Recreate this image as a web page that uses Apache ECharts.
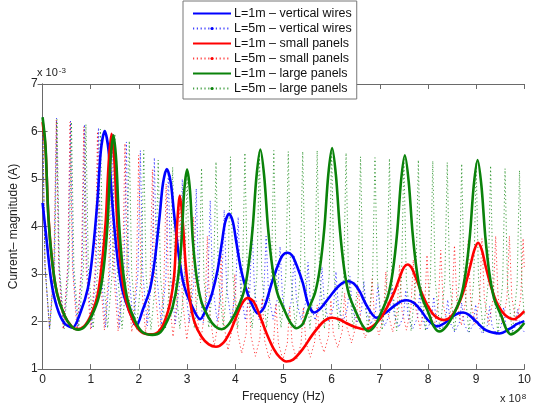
<!DOCTYPE html>
<html><head><meta charset="utf-8">
<script src="https://cdn.jsdelivr.net/npm/echarts@6/dist/echarts.min.js"></script>
<style>html,body{margin:0;padding:0;background:#fff}#c{width:534px;height:408px}</style>
</head><body><div id="c"></div>
<script>
// Units: frequency in 1e8 Hz, current in 1e-3 A
const xTickLabels = ['0','1','2','3','4','5','6','7','8','9','10'];
const yTickLabels = ['1','2','3','4','5','6','7'];
const seriesNames = ['L=1m – vertical wires','L=5m – vertical wires','L=1m – small panels','L=5m – small panels','L=1m – large panels','L=5m – large panels'];

const wires1m = [[0,4.5],[0.08,3.75],[0.18,2.85],[0.3,2.3],[0.45,1.97],[0.62,1.87],[0.79,2.2],[0.94,2.7],[1.04,3.44],[1.14,4.56],[1.21,5.6],[1.29,6.01],[1.37,5.6],[1.44,4.58],[1.54,3.47],[1.64,2.74],[1.79,2.25],[1.95,1.92],[2.08,2.25],[2.23,2.68],[2.33,3.3],[2.43,4.22],[2.5,4.91],[2.58,5.21],[2.66,4.93],[2.73,4.26],[2.83,3.38],[2.93,2.78],[3.08,2.37],[3.27,2.05],[3.42,2.32],[3.52,2.6],[3.63,3.07],[3.72,3.65],[3.79,4.09],[3.87,4.27],[3.95,4.1],[4.02,3.68],[4.11,3.14],[4.22,2.7],[4.32,2.42],[4.47,2.17],[4.6,2.3],[4.76,2.82],[4.88,3.17],[4.98,3.39],[5.08,3.45],[5.18,3.39],[5.28,3.17],[5.4,2.82],[5.52,2.35],[5.64,2.19],[5.78,2.29],[5.96,2.52],[6.1,2.7],[6.22,2.81],[6.34,2.85],[6.46,2.8],[6.58,2.64],[6.72,2.35],[6.93,2.08],[7.1,2.17],[7.3,2.33],[7.45,2.43],[7.56,2.45],[7.7,2.4],[7.85,2.24],[8.0,2.03],[8.19,1.9],[8.35,1.97],[8.5,2.1],[8.62,2.17],[8.73,2.19],[8.85,2.14],[9.0,2.0],[9.2,1.82],[9.48,1.75],[9.7,1.85],[9.85,1.95],[10,2.01]];

const wires5m = [[0,6.3],[0.05,3.19],[0.145,1.85],[0.24,3.18],[0.29,6.28],[0.34,3.18],[0.435,1.85],[0.53,3.16],[0.58,6.22],[0.63,3.17],[0.725,1.86],[0.82,3.15],[0.87,6.15],[0.92,3.15],[1.015,1.87],[1.11,3.13],[1.16,6.08],[1.21,3.14],[1.305,1.88],[1.4,3.1],[1.45,5.95],[1.5,3.1],[1.595,1.88],[1.69,3.05],[1.74,5.78],[1.79,3.06],[1.885,1.9],[1.98,3.01],[2.03,5.6],[2.08,3.02],[2.175,1.91],[2.27,2.97],[2.32,5.45],[2.37,2.99],[2.465,1.93],[2.56,2.91],[2.61,5.2],[2.66,2.93],[2.755,1.95],[2.85,2.87],[2.9,5.0],[2.95,2.88],[3.045,1.97],[3.14,2.82],[3.19,4.8],[3.24,2.83],[3.335,1.98],[3.43,2.75],[3.48,4.55],[3.53,2.77],[3.625,2.0],[3.72,2.71],[3.77,4.35],[3.82,2.72],[3.915,2.02],[4.01,2.67],[4.06,4.2],[4.11,2.68],[4.205,2.03],[4.3,2.62],[4.35,4.0],[4.4,2.63],[4.495,2.04],[4.59,2.57],[4.64,3.8],[4.69,2.58],[4.785,2.05],[4.88,2.51],[4.93,3.58],[4.98,2.51],[5.075,2.05],[5.17,2.46],[5.22,3.4],[5.27,2.45],[5.365,2.04],[5.46,2.4],[5.51,3.25],[5.56,2.4],[5.655,2.03],[5.75,2.37],[5.8,3.15],[5.85,2.35],[5.945,2.01],[6.04,2.32],[6.09,3.05],[6.14,2.31],[6.235,1.99],[6.33,2.28],[6.38,2.95],[6.43,2.26],[6.525,1.97],[6.62,2.23],[6.67,2.85],[6.72,2.21],[6.815,1.94],[6.91,2.19],[6.96,2.78],[7.01,2.17],[7.105,1.91],[7.2,2.15],[7.25,2.72],[7.3,2.13],[7.395,1.88],[7.49,2.11],[7.54,2.66],[7.59,2.09],[7.685,1.85],[7.78,2.08],[7.83,2.6],[7.88,2.05],[7.975,1.82],[8.07,2.03],[8.12,2.52],[8.17,2.02],[8.265,1.8],[8.36,2.0],[8.41,2.46],[8.46,1.98],[8.555,1.78],[8.65,1.97],[8.7,2.4],[8.75,1.95],[8.845,1.76],[8.94,1.94],[8.99,2.36],[9.04,1.93],[9.135,1.74],[9.23,1.91],[9.28,2.32],[9.33,1.91],[9.425,1.73],[9.52,1.9],[9.57,2.3],[9.62,1.9],[9.715,1.73],[9.81,1.89],[9.86,2.26],[9.91,1.9],[10,1.78]];

const small1m = [[0,6.2],[0.06,5.65],[0.12,4.25],[0.2,3.25],[0.3,2.6],[0.45,2.14],[0.6,1.9],[0.72,1.84],[0.86,1.9],[1.0,2.13],[1.14,2.55],[1.23,3.2],[1.31,4.1],[1.37,5.3],[1.43,5.95],[1.49,5.4],[1.55,4.1],[1.63,3.1],[1.73,2.45],[1.88,2.02],[2.05,1.78],[2.25,1.73],[2.42,1.8],[2.55,2.05],[2.65,2.4],[2.73,2.95],[2.79,4.0],[2.85,4.65],[2.91,4.1],[2.97,3.2],[3.05,2.5],[3.15,2.0],[3.3,1.68],[3.45,1.52],[3.6,1.47],[3.75,1.55],[3.9,1.8],[4.02,2.1],[4.14,2.38],[4.26,2.5],[4.38,2.42],[4.5,2.15],[4.65,1.75],[4.8,1.42],[4.93,1.24],[5.06,1.16],[5.2,1.2],[5.4,1.42],[5.6,1.72],[5.8,1.97],[5.92,2.06],[6.01,2.08],[6.15,2.05],[6.3,1.97],[6.5,1.88],[6.7,1.84],[6.85,1.9],[7.0,2.05],[7.15,2.3],[7.3,2.62],[7.42,2.95],[7.5,3.14],[7.58,3.2],[7.66,3.13],[7.75,2.92],[7.87,2.6],[8.0,2.32],[8.15,2.11],[8.33,2.03],[8.5,2.13],[8.65,2.4],[8.78,2.78],[8.88,3.18],[8.96,3.5],[9.04,3.66],[9.12,3.5],[9.2,3.15],[9.32,2.7],[9.45,2.35],[9.6,2.14],[9.79,2.05],[9.9,2.12],[10,2.22]];

const small5m = [[0,6.25],[0.05,3.16],[0.143,1.84],[0.235,3.16],[0.285,6.25],[0.335,3.16],[0.428,1.84],[0.52,3.15],[0.57,6.2],[0.62,3.15],[0.713,1.84],[0.805,3.12],[0.855,6.1],[0.905,3.11],[0.998,1.83],[1.09,3.08],[1.14,6.0],[1.19,3.07],[1.283,1.82],[1.375,3.04],[1.425,5.9],[1.475,3.03],[1.568,1.8],[1.66,2.99],[1.71,5.75],[1.76,2.97],[1.853,1.78],[1.945,2.9],[1.995,5.5],[2.045,2.88],[2.138,1.76],[2.23,2.79],[2.28,5.2],[2.33,2.76],[2.423,1.72],[2.515,2.67],[2.565,4.9],[2.615,2.65],[2.708,1.68],[2.8,2.56],[2.85,4.6],[2.9,2.51],[2.993,1.62],[3.085,2.39],[3.135,4.2],[3.185,2.35],[3.278,1.55],[3.37,2.23],[3.42,3.8],[3.47,2.18],[3.563,1.48],[3.655,2.06],[3.705,3.4],[3.755,2.0],[3.848,1.4],[3.94,1.88],[3.99,3.0],[4.04,1.83],[4.133,1.33],[4.225,1.74],[4.275,2.7],[4.325,1.7],[4.418,1.27],[4.51,1.64],[4.56,2.5],[4.61,1.6],[4.703,1.22],[4.795,1.57],[4.845,2.38],[4.895,1.55],[4.988,1.2],[5.08,1.54],[5.13,2.32],[5.18,1.54],[5.273,1.2],[5.365,1.53],[5.415,2.3],[5.465,1.57],[5.558,1.25],[5.65,1.58],[5.7,2.35],[5.75,1.65],[5.843,1.35],[5.935,1.68],[5.985,2.45],[6.035,1.75],[6.128,1.45],[6.22,1.8],[6.27,2.6],[6.32,1.87],[6.413,1.55],[6.505,1.91],[6.555,2.75],[6.605,1.98],[6.698,1.65],[6.79,2.03],[6.84,2.9],[6.89,2.07],[6.983,1.72],[7.075,2.12],[7.125,3.05],[7.175,2.16],[7.268,1.78],[7.36,2.21],[7.41,3.2],[7.46,2.23],[7.553,1.82],[7.645,2.26],[7.695,3.3],[7.745,2.29],[7.838,1.85],[7.93,2.32],[7.98,3.4],[8.03,2.34],[8.123,1.88],[8.215,2.37],[8.265,3.5],[8.315,2.38],[8.408,1.9],[8.5,2.41],[8.55,3.6],[8.6,2.42],[8.693,1.92],[8.785,2.45],[8.835,3.7],[8.885,2.46],[8.978,1.93],[9.07,2.48],[9.12,3.75],[9.17,2.48],[9.263,1.94],[9.355,2.5],[9.405,3.8],[9.455,2.51],[9.548,1.95],[9.64,2.51],[9.69,3.8],[9.74,2.51],[9.833,1.95],[9.925,2.49],[9.975,3.75],[10,3.1]];

const large1m = [[0,6.3],[0.06,5.72],[0.12,4.2],[0.2,3.26],[0.3,2.59],[0.45,2.14],[0.6,1.9],[0.74,1.83],[0.88,1.9],[1.02,2.12],[1.17,2.53],[1.27,3.14],[1.35,4.08],[1.41,5.39],[1.47,5.92],[1.53,5.37],[1.59,4.03],[1.67,3.06],[1.77,2.43],[1.92,2.01],[2.07,1.78],[2.28,1.72],[2.45,1.78],[2.58,2.0],[2.7,2.31],[2.8,2.83],[2.88,3.63],[2.94,4.75],[3.0,5.2],[3.06,4.76],[3.12,3.69],[3.2,2.92],[3.3,2.41],[3.45,2.08],[3.58,1.9],[3.72,1.84],[3.87,1.95],[4.02,2.22],[4.17,2.6],[4.27,3.13],[4.36,3.96],[4.44,5.05],[4.52,5.62],[4.6,5.06],[4.68,3.97],[4.77,3.14],[4.87,2.61],[5.02,2.24],[5.15,1.97],[5.27,1.86],[5.4,1.95],[5.51,2.24],[5.66,2.62],[5.76,3.15],[5.85,3.98],[5.93,5.08],[6.01,5.65],[6.09,5.07],[6.17,3.96],[6.26,3.11],[6.36,2.57],[6.51,2.19],[6.64,1.92],[6.76,1.8],[6.89,1.9],[7.02,2.17],[7.17,2.54],[7.27,3.06],[7.36,3.87],[7.44,4.95],[7.52,5.5],[7.6,4.94],[7.68,3.87],[7.77,3.05],[7.87,2.53],[8.02,2.16],[8.12,1.9],[8.24,1.79],[8.38,1.9],[8.53,2.15],[8.68,2.51],[8.78,3.02],[8.87,3.81],[8.95,4.86],[9.03,5.4],[9.11,4.85],[9.19,3.79],[9.28,2.98],[9.38,2.46],[9.53,2.1],[9.62,1.85],[9.72,1.73],[9.85,1.8],[10,1.97]];

const large5m = [[0,6.25],[0.05,3.17],[0.15,1.85],[0.25,3.17],[0.3,6.25],[0.35,3.17],[0.45,1.85],[0.55,3.16],[0.6,6.2],[0.65,3.16],[0.75,1.85],[0.85,3.14],[0.9,6.15],[0.95,3.15],[1.05,1.86],[1.15,3.12],[1.2,6.05],[1.25,3.12],[1.35,1.86],[1.45,3.09],[1.5,5.95],[1.55,3.08],[1.65,1.85],[1.75,3.04],[1.8,5.8],[1.85,3.03],[1.95,1.84],[2.05,2.97],[2.1,5.6],[2.15,2.96],[2.25,1.83],[2.35,2.9],[2.4,5.4],[2.45,2.91],[2.55,1.84],[2.65,2.86],[2.7,5.25],[2.75,2.87],[2.85,1.85],[2.95,2.84],[3.0,5.15],[3.05,2.85],[3.15,1.86],[3.25,2.87],[3.3,5.23],[3.35,2.88],[3.45,1.87],[3.55,2.92],[3.6,5.36],[3.65,2.92],[3.75,1.87],[3.85,2.95],[3.9,5.47],[3.95,2.94],[4.05,1.86],[4.15,2.97],[4.2,5.55],[4.25,2.97],[4.35,1.86],[4.45,2.98],[4.5,5.6],[4.55,2.99],[4.65,1.87],[4.75,2.99],[4.8,5.6],[4.85,2.99],[4.95,1.87],[5.05,2.98],[5.1,5.58],[5.15,2.98],[5.25,1.86],[5.35,2.98],[5.4,5.58],[5.45,2.98],[5.55,1.86],[5.65,2.98],[5.7,5.6],[5.75,2.98],[5.85,1.85],[5.95,2.98],[6.0,5.62],[6.05,2.97],[6.15,1.84],[6.25,2.95],[6.3,5.55],[6.35,2.95],[6.45,1.83],[6.55,2.92],[6.6,5.47],[6.65,2.92],[6.75,1.82],[6.85,2.91],[6.9,5.45],[6.95,2.91],[7.05,1.82],[7.15,2.9],[7.2,5.43],[7.25,2.9],[7.35,1.81],[7.45,2.9],[7.5,5.45],[7.55,2.9],[7.65,1.8],[7.75,2.88],[7.8,5.4],[7.85,2.88],[7.95,1.8],[8.05,2.87],[8.1,5.38],[8.15,2.87],[8.25,1.79],[8.35,2.86],[8.4,5.35],[8.45,2.86],[8.55,1.79],[8.65,2.85],[8.7,5.32],[8.75,2.84],[8.85,1.78],[8.95,2.85],[9.0,5.35],[9.05,2.84],[9.15,1.77],[9.25,2.82],[9.3,5.28],[9.35,2.82],[9.45,1.76],[9.55,2.8],[9.6,5.22],[9.65,2.79],[9.75,1.75],[9.85,2.78],[9.9,5.18],[9.95,2.8],[10,2.1]];

const BLUE = '#0000ff', RED = '#ff0000', GREEN = '#0a820a';
const FONT = '"Liberation Sans", Arial, sans-serif';

function solid(name, data, color) {
  return { name, type: 'line', data, symbol: 'none', smooth: 0.3, z: 4,
    lineStyle: { color, width: 2.6 }, itemStyle: { color }, animation: false };
}
function dotted(name, data, color) {
  return { name, type: 'line', data, symbol: 'circle', symbolSize: 3, showSymbol: false, z: 2,
    lineStyle: { color, width: 1, type: [1.2, 2.6], opacity: 0.75 }, itemStyle: { color }, animation: false };
}

const chart = echarts.init(document.getElementById('c'), null, { renderer: 'canvas' });
const axisCol = '#6a6a6a';
chart.setOption({
  animation: false,
  backgroundColor: '#fff',
  textStyle: { fontFamily: FONT },
  grid: { left: 37, right: 7, top: 84, bottom: 38 },
  legend: {
    orient: 'vertical', left: 183, top: 1, padding: [6, 5, 4, 9],
    itemWidth: 38, itemHeight: 4, itemGap: 2,
    backgroundColor: '#fff', borderColor: '#777', borderWidth: 1, z: 10,
    textStyle: { fontFamily: FONT, fontSize: 12.5, lineHeight: 12, color: '#111', padding: [0, 0, 0, -2] },
    data: seriesNames.map((n, i) => i % 2 === 0 ? { name: n, itemStyle: { opacity: 0 } } : { name: n })
  },
  xAxis: [
    { type: 'value', min: 0, max: 10, interval: 1, position: 'bottom',
      name: 'Frequency (Hz)', nameLocation: 'middle', nameGap: 18,
      nameTextStyle: { fontFamily: FONT, fontSize: 12, color: '#222' },
      axisLine: { lineStyle: { color: axisCol } }, splitLine: { show: false },
      axisTick: { inside: true, length: 5, lineStyle: { color: axisCol } },
      axisLabel: { margin: 5, fontSize: 12, color: '#222', fontFamily: FONT,
        formatter: v => xTickLabels[Math.round(v)] } },
    { type: 'value', min: 0, max: 10, interval: 1, position: 'top',
      axisLine: { lineStyle: { color: axisCol } }, splitLine: { show: false },
      axisTick: { inside: true, length: 5, lineStyle: { color: axisCol } }, axisLabel: { show: false } }
  ],
  yAxis: [
    { type: 'value', min: 1, max: 7, interval: 1, position: 'left',
      name: 'Current– magnitude (A)', nameLocation: 'middle', nameGap: 18,
      nameTextStyle: { fontFamily: FONT, fontSize: 12, color: '#222' },
      axisLine: { show: true, lineStyle: { color: axisCol } }, splitLine: { show: false },
      axisTick: { show: true, inside: true, length: 5, lineStyle: { color: axisCol } },
      axisLabel: { margin: 5, fontSize: 12, color: '#222', fontFamily: FONT,
        formatter: v => yTickLabels[Math.round(v) - 1] } },
    { type: 'value', min: 1, max: 7, interval: 1, position: 'right',
      axisLine: { show: true, lineStyle: { color: axisCol } }, splitLine: { show: false },
      axisTick: { show: true, inside: true, length: 5, lineStyle: { color: axisCol } }, axisLabel: { show: false } }
  ],
  graphic: [
    { type: 'text', left: 37, top: 67, z: 20,
      style: { text: 'x 10{s|-3}', font: '11px ' + FONT, fill: '#222',
        rich: { s: { fontSize: 8, verticalAlign: 'top', padding: [0, 0, 4, 1], fontFamily: FONT } } } },
    { type: 'text', left: 500, top: 393, z: 20,
      style: { text: 'x 10{s|8}', font: '11px ' + FONT, fill: '#222',
        rich: { s: { fontSize: 8, verticalAlign: 'top', padding: [0, 0, 4, 1], fontFamily: FONT } } } }
  ],
  series: [
    solid(seriesNames[0], wires1m, BLUE),
    dotted(seriesNames[1], wires5m, BLUE),
    solid(seriesNames[2], small1m, RED),
    dotted(seriesNames[3], small5m, RED),
    solid(seriesNames[4], large1m, GREEN),
    dotted(seriesNames[5], large5m, GREEN)
  ]
});
</script></body></html>
